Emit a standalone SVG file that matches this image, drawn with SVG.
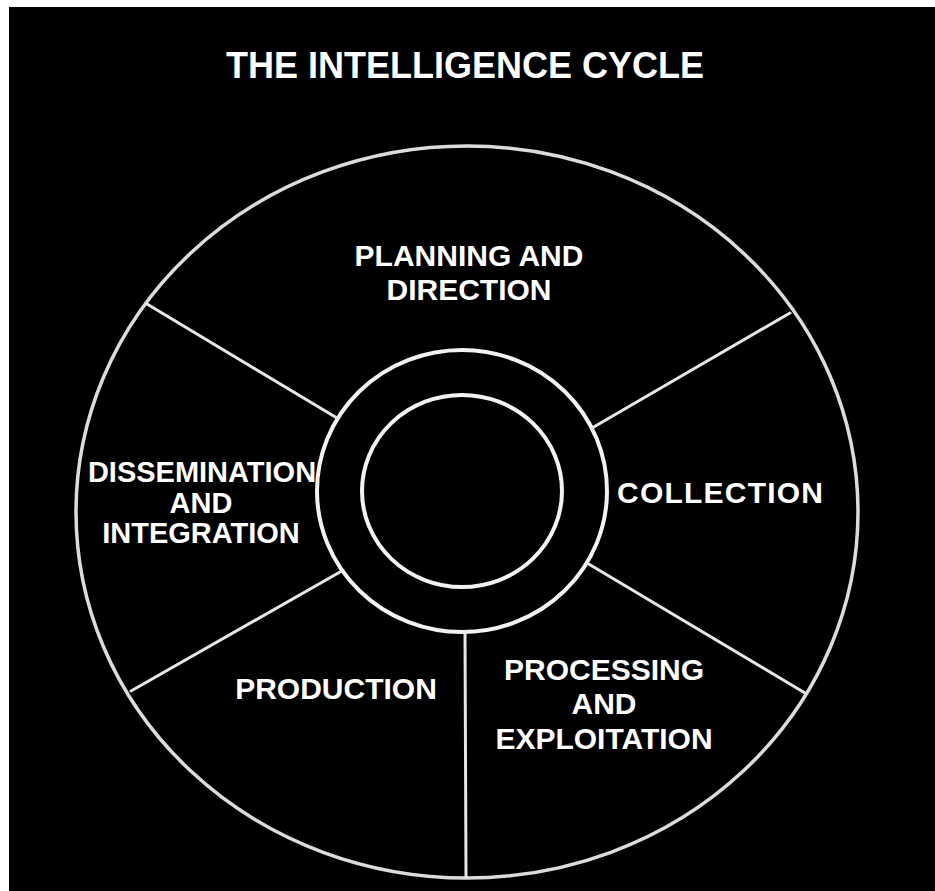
<svg xmlns="http://www.w3.org/2000/svg" width="935" height="891" viewBox="0 0 935 891">
  <style>
    .lbl { font-family: "Liberation Sans", Arial, Helvetica, sans-serif; font-weight: bold; fill: #ffffff; text-anchor: middle; }
    .ring { fill: none; stroke: #f2f2f2; stroke-width: 4; }
    .rim { fill: none; stroke: #dcdcdc; stroke-width: 3.5; }
    .div { stroke: #e6e6e6; stroke-width: 3; stroke-linecap: round; fill: none; }
  </style>
  <rect x="0" y="0" width="935" height="891" fill="#ffffff"/>
  <rect x="9" y="7" width="926" height="884" fill="#000000"/>

  <g id="title">
    <text class="lbl" x="465" y="78" font-size="36">THE INTELLIGENCE CYCLE</text>
  </g>

  <g id="wheel">
    <ellipse class="rim" cx="467" cy="512" rx="391" ry="366"/>
    <ellipse class="ring" cx="462" cy="491" rx="145" ry="141"/>
    <ellipse class="ring" cx="462" cy="491" rx="100" ry="96"/>
  </g>

  <g id="connectors">
    <line class="div" x1="337" y1="418" x2="147" y2="304"/>
    <line class="div" x1="340" y1="572" x2="131" y2="691"/>
    <line class="div" x1="592" y1="428" x2="790" y2="313"/>
    <line class="div" x1="587" y1="563" x2="805" y2="693"/>
    <line class="div" x1="465" y1="632" x2="466" y2="877"/>
  </g>

  <g id="planning">
    <text class="lbl" x="469" y="266" font-size="30">PLANNING AND</text>
    <text class="lbl" x="469" y="300" font-size="30">DIRECTION</text>
  </g>

  <g id="collection">
    <text class="lbl" x="720" y="503" font-size="30" textLength="206" lengthAdjust="spacing">COLLECTION</text>
  </g>

  <g id="processing">
    <text class="lbl" x="604" y="680" font-size="30">PROCESSING</text>
    <text class="lbl" x="604" y="714" font-size="30">AND</text>
    <text class="lbl" x="604" y="749" font-size="30">EXPLOITATION</text>
  </g>

  <g id="production">
    <text class="lbl" x="336" y="699" font-size="30">PRODUCTION</text>
  </g>

  <g id="dissemination">
    <text class="lbl" x="202" y="482" font-size="29">DISSEMINATION</text>
    <text class="lbl" x="201" y="513" font-size="29">AND</text>
    <text class="lbl" x="201" y="543" font-size="29">INTEGRATION</text>
  </g>
</svg>
